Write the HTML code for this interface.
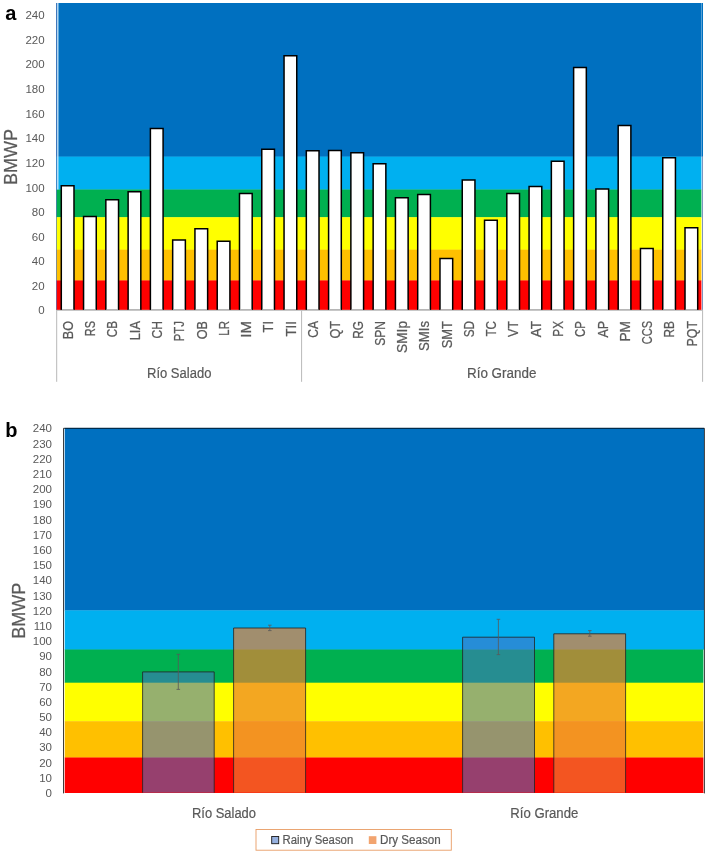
<!DOCTYPE html>
<html><head><meta charset="utf-8"><title>BMWP</title>
<style>html,body{margin:0;padding:0;background:#fff;}svg{display:block;will-change:transform;}text{font-family:"Liberation Sans",sans-serif;}</style></head><body>
<svg width="708" height="855" viewBox="0 0 708 855">
<rect x="0" y="0" width="708" height="855" fill="#ffffff"/>
<rect x="56.1" y="3.0" width="645.5" height="153.9" fill="#0070C0"/>
<rect x="56.1" y="156.6" width="645.5" height="33.2" fill="#00B0F0"/>
<rect x="56.1" y="189.5" width="645.5" height="28.0" fill="#00B050"/>
<rect x="56.1" y="217.2" width="645.5" height="32.7" fill="#FFFF00"/>
<rect x="56.1" y="249.6" width="645.5" height="31.1" fill="#FFC000"/>
<rect x="56.1" y="280.4" width="645.5" height="29.5" fill="#FF0000"/>
<rect x="56.1" y="3.0" width="0.7" height="306.9" fill="#4F74B8"/>
<rect x="57.1" y="3.0" width="1.4" height="186.5" fill="#C6E2F6"/>
<rect x="701.6" y="3.0" width="0.6" height="306.9" fill="#ffffff" fill-opacity="0.7"/>
<rect x="702.1" y="3.0" width="0.9" height="306.9" fill="#6F88B8"/>
<rect x="701.6" y="3.0" width="1.4" height="153.4" fill="#0070C0"/>
<path d="M61.29 309.9 V185.75 H73.99 V309.9" fill="#ffffff" stroke="#000000" stroke-width="1.5"/>
<rect x="61.99" y="309.2" width="11.30" height="0.8" fill="#A6A6A6"/>
<path d="M83.56 309.9 V216.55 H96.26 V309.9" fill="#ffffff" stroke="#000000" stroke-width="1.5"/>
<rect x="84.26" y="309.2" width="11.30" height="0.8" fill="#A6A6A6"/>
<path d="M105.84 309.9 V199.65 H118.54 V309.9" fill="#ffffff" stroke="#000000" stroke-width="1.5"/>
<rect x="106.54" y="309.2" width="11.30" height="0.8" fill="#A6A6A6"/>
<path d="M128.12 309.9 V191.65 H140.82 V309.9" fill="#ffffff" stroke="#000000" stroke-width="1.5"/>
<rect x="128.82" y="309.2" width="11.30" height="0.8" fill="#A6A6A6"/>
<path d="M150.39 309.9 V128.45 H163.09 V309.9" fill="#ffffff" stroke="#000000" stroke-width="1.5"/>
<rect x="151.09" y="309.2" width="11.30" height="0.8" fill="#A6A6A6"/>
<path d="M172.67 309.9 V240.05 H185.37 V309.9" fill="#ffffff" stroke="#000000" stroke-width="1.5"/>
<rect x="173.37" y="309.2" width="11.30" height="0.8" fill="#A6A6A6"/>
<path d="M194.94 309.9 V228.75 H207.64 V309.9" fill="#ffffff" stroke="#000000" stroke-width="1.5"/>
<rect x="195.64" y="309.2" width="11.30" height="0.8" fill="#A6A6A6"/>
<path d="M217.22 309.9 V241.15 H229.92 V309.9" fill="#ffffff" stroke="#000000" stroke-width="1.5"/>
<rect x="217.92" y="309.2" width="11.30" height="0.8" fill="#A6A6A6"/>
<path d="M239.49 309.9 V193.45 H252.19 V309.9" fill="#ffffff" stroke="#000000" stroke-width="1.5"/>
<rect x="240.19" y="309.2" width="11.30" height="0.8" fill="#A6A6A6"/>
<path d="M261.77 309.9 V149.35 H274.47 V309.9" fill="#ffffff" stroke="#000000" stroke-width="1.5"/>
<rect x="262.47" y="309.2" width="11.30" height="0.8" fill="#A6A6A6"/>
<path d="M284.05 309.9 V55.75 H296.75 V309.9" fill="#ffffff" stroke="#000000" stroke-width="1.5"/>
<rect x="284.75" y="309.2" width="11.30" height="0.8" fill="#A6A6A6"/>
<path d="M306.32 309.9 V150.65 H319.02 V309.9" fill="#ffffff" stroke="#000000" stroke-width="1.5"/>
<rect x="307.02" y="309.2" width="11.30" height="0.8" fill="#A6A6A6"/>
<path d="M328.60 309.9 V150.55 H341.30 V309.9" fill="#ffffff" stroke="#000000" stroke-width="1.5"/>
<rect x="329.30" y="309.2" width="11.30" height="0.8" fill="#A6A6A6"/>
<path d="M350.87 309.9 V152.75 H363.57 V309.9" fill="#ffffff" stroke="#000000" stroke-width="1.5"/>
<rect x="351.57" y="309.2" width="11.30" height="0.8" fill="#A6A6A6"/>
<path d="M373.15 309.9 V163.75 H385.85 V309.9" fill="#ffffff" stroke="#000000" stroke-width="1.5"/>
<rect x="373.85" y="309.2" width="11.30" height="0.8" fill="#A6A6A6"/>
<path d="M395.43 309.9 V197.85 H408.13 V309.9" fill="#ffffff" stroke="#000000" stroke-width="1.5"/>
<rect x="396.13" y="309.2" width="11.30" height="0.8" fill="#A6A6A6"/>
<path d="M417.70 309.9 V194.55 H430.40 V309.9" fill="#ffffff" stroke="#000000" stroke-width="1.5"/>
<rect x="418.40" y="309.2" width="11.30" height="0.8" fill="#A6A6A6"/>
<path d="M439.98 309.9 V258.45 H452.68 V309.9" fill="#ffffff" stroke="#000000" stroke-width="1.5"/>
<rect x="440.68" y="309.2" width="11.30" height="0.8" fill="#A6A6A6"/>
<path d="M462.25 309.9 V179.95 H474.95 V309.9" fill="#ffffff" stroke="#000000" stroke-width="1.5"/>
<rect x="462.95" y="309.2" width="11.30" height="0.8" fill="#A6A6A6"/>
<path d="M484.53 309.9 V220.35 H497.23 V309.9" fill="#ffffff" stroke="#000000" stroke-width="1.5"/>
<rect x="485.23" y="309.2" width="11.30" height="0.8" fill="#A6A6A6"/>
<path d="M506.81 309.9 V193.45 H519.51 V309.9" fill="#ffffff" stroke="#000000" stroke-width="1.5"/>
<rect x="507.51" y="309.2" width="11.30" height="0.8" fill="#A6A6A6"/>
<path d="M529.08 309.9 V186.55 H541.78 V309.9" fill="#ffffff" stroke="#000000" stroke-width="1.5"/>
<rect x="529.78" y="309.2" width="11.30" height="0.8" fill="#A6A6A6"/>
<path d="M551.36 309.9 V161.15 H564.06 V309.9" fill="#ffffff" stroke="#000000" stroke-width="1.5"/>
<rect x="552.06" y="309.2" width="11.30" height="0.8" fill="#A6A6A6"/>
<path d="M573.63 309.9 V67.45 H586.33 V309.9" fill="#ffffff" stroke="#000000" stroke-width="1.5"/>
<rect x="574.33" y="309.2" width="11.30" height="0.8" fill="#A6A6A6"/>
<path d="M595.91 309.9 V189.05 H608.61 V309.9" fill="#ffffff" stroke="#000000" stroke-width="1.5"/>
<rect x="596.61" y="309.2" width="11.30" height="0.8" fill="#A6A6A6"/>
<path d="M618.18 309.9 V125.55 H630.88 V309.9" fill="#ffffff" stroke="#000000" stroke-width="1.5"/>
<rect x="618.88" y="309.2" width="11.30" height="0.8" fill="#A6A6A6"/>
<path d="M640.46 309.9 V248.55 H653.16 V309.9" fill="#ffffff" stroke="#000000" stroke-width="1.5"/>
<rect x="641.16" y="309.2" width="11.30" height="0.8" fill="#A6A6A6"/>
<path d="M662.74 309.9 V157.85 H675.44 V309.9" fill="#ffffff" stroke="#000000" stroke-width="1.5"/>
<rect x="663.44" y="309.2" width="11.30" height="0.8" fill="#A6A6A6"/>
<path d="M685.01 309.9 V227.65 H697.71 V309.9" fill="#ffffff" stroke="#000000" stroke-width="1.5"/>
<rect x="685.71" y="309.2" width="11.30" height="0.8" fill="#A6A6A6"/>
<rect x="56.8" y="309.9" width="646.2" height="0.8" fill="#B0B0B0"/>
<rect x="56.1" y="310.0" width="1.1" height="71.8" fill="#BFBFBF"/>
<rect x="301.0" y="310.0" width="1.1" height="71.8" fill="#BFBFBF"/>
<rect x="702.0" y="310.0" width="1.1" height="71.8" fill="#BFBFBF"/>
<text x="44.6" y="314.4" font-size="11.5" text-anchor="end" fill="#595959">0</text>
<text x="44.6" y="289.8" font-size="11.5" text-anchor="end" fill="#595959">20</text>
<text x="44.6" y="265.2" font-size="11.5" text-anchor="end" fill="#595959">40</text>
<text x="44.6" y="240.7" font-size="11.5" text-anchor="end" fill="#595959">60</text>
<text x="44.6" y="216.1" font-size="11.5" text-anchor="end" fill="#595959">80</text>
<text x="44.6" y="191.5" font-size="11.5" text-anchor="end" fill="#595959">100</text>
<text x="44.6" y="166.9" font-size="11.5" text-anchor="end" fill="#595959">120</text>
<text x="44.6" y="142.4" font-size="11.5" text-anchor="end" fill="#595959">140</text>
<text x="44.6" y="117.8" font-size="11.5" text-anchor="end" fill="#595959">160</text>
<text x="44.6" y="93.2" font-size="11.5" text-anchor="end" fill="#595959">180</text>
<text x="44.6" y="68.3" font-size="11.5" text-anchor="end" fill="#595959">200</text>
<text x="44.6" y="44.1" font-size="11.5" text-anchor="end" fill="#595959">220</text>
<text x="44.6" y="18.9" font-size="11.5" text-anchor="end" fill="#595959">240</text>
<text transform="translate(72.94 321.0) rotate(-90)" font-size="14.2" text-anchor="end" textLength="18.2" lengthAdjust="spacingAndGlyphs" fill="#595959" stroke="#595959" stroke-width="0.25">BO</text>
<text transform="translate(95.21 321.0) rotate(-90)" font-size="14.2" text-anchor="end" textLength="15.2" lengthAdjust="spacingAndGlyphs" fill="#595959" stroke="#595959" stroke-width="0.25">RS</text>
<text transform="translate(117.49 321.0) rotate(-90)" font-size="14.2" text-anchor="end" textLength="16.3" lengthAdjust="spacingAndGlyphs" fill="#595959" stroke="#595959" stroke-width="0.25">CB</text>
<text transform="translate(139.77 321.0) rotate(-90)" font-size="14.2" text-anchor="end" textLength="19.3" lengthAdjust="spacingAndGlyphs" fill="#595959" stroke="#595959" stroke-width="0.25">LIA</text>
<text transform="translate(162.04 321.0) rotate(-90)" font-size="14.2" text-anchor="end" textLength="17.5" lengthAdjust="spacingAndGlyphs" fill="#595959" stroke="#595959" stroke-width="0.25">CH</text>
<text transform="translate(184.32 321.0) rotate(-90)" font-size="14.2" text-anchor="end" textLength="20.3" lengthAdjust="spacingAndGlyphs" fill="#595959" stroke="#595959" stroke-width="0.25">PTJ</text>
<text transform="translate(206.59 321.0) rotate(-90)" font-size="14.2" text-anchor="end" textLength="18.2" lengthAdjust="spacingAndGlyphs" fill="#595959" stroke="#595959" stroke-width="0.25">OB</text>
<text transform="translate(228.87 321.0) rotate(-90)" font-size="14.2" text-anchor="end" textLength="14.7" lengthAdjust="spacingAndGlyphs" fill="#595959" stroke="#595959" stroke-width="0.25">LR</text>
<text transform="translate(251.14 321.0) rotate(-90)" font-size="14.2" text-anchor="end" textLength="16.8" lengthAdjust="spacingAndGlyphs" fill="#595959" stroke="#595959" stroke-width="0.25">IM</text>
<text transform="translate(273.42 321.0) rotate(-90)" font-size="14.2" text-anchor="end" textLength="11.4" lengthAdjust="spacingAndGlyphs" fill="#595959" stroke="#595959" stroke-width="0.25">TI</text>
<text transform="translate(295.70 321.0) rotate(-90)" font-size="14.2" text-anchor="end" textLength="15.5" lengthAdjust="spacingAndGlyphs" fill="#595959" stroke="#595959" stroke-width="0.25">TII</text>
<text transform="translate(317.97 321.0) rotate(-90)" font-size="14.2" text-anchor="end" textLength="16.8" lengthAdjust="spacingAndGlyphs" fill="#595959" stroke="#595959" stroke-width="0.25">CA</text>
<text transform="translate(340.25 321.0) rotate(-90)" font-size="14.2" text-anchor="end" textLength="17.5" lengthAdjust="spacingAndGlyphs" fill="#595959" stroke="#595959" stroke-width="0.25">QT</text>
<text transform="translate(362.52 321.0) rotate(-90)" font-size="14.2" text-anchor="end" textLength="17.7" lengthAdjust="spacingAndGlyphs" fill="#595959" stroke="#595959" stroke-width="0.25">RG</text>
<text transform="translate(384.80 321.0) rotate(-90)" font-size="14.2" text-anchor="end" textLength="24.7" lengthAdjust="spacingAndGlyphs" fill="#595959" stroke="#595959" stroke-width="0.25">SPN</text>
<text transform="translate(407.08 321.0) rotate(-90)" font-size="14.2" text-anchor="end" textLength="31.9" lengthAdjust="spacingAndGlyphs" fill="#595959" stroke="#595959" stroke-width="0.25">SMIp</text>
<text transform="translate(429.35 321.0) rotate(-90)" font-size="14.2" text-anchor="end" textLength="30.0" lengthAdjust="spacingAndGlyphs" fill="#595959" stroke="#595959" stroke-width="0.25">SMIs</text>
<text transform="translate(451.63 321.0) rotate(-90)" font-size="14.2" text-anchor="end" textLength="27.3" lengthAdjust="spacingAndGlyphs" fill="#595959" stroke="#595959" stroke-width="0.25">SMT</text>
<text transform="translate(473.90 321.0) rotate(-90)" font-size="14.2" text-anchor="end" textLength="16.3" lengthAdjust="spacingAndGlyphs" fill="#595959" stroke="#595959" stroke-width="0.25">SD</text>
<text transform="translate(496.18 321.0) rotate(-90)" font-size="14.2" text-anchor="end" textLength="15.5" lengthAdjust="spacingAndGlyphs" fill="#595959" stroke="#595959" stroke-width="0.25">TC</text>
<text transform="translate(518.46 321.0) rotate(-90)" font-size="14.2" text-anchor="end" textLength="16.0" lengthAdjust="spacingAndGlyphs" fill="#595959" stroke="#595959" stroke-width="0.25">VT</text>
<text transform="translate(540.73 321.0) rotate(-90)" font-size="14.2" text-anchor="end" textLength="16.2" lengthAdjust="spacingAndGlyphs" fill="#595959" stroke="#595959" stroke-width="0.25">AT</text>
<text transform="translate(563.01 321.0) rotate(-90)" font-size="14.2" text-anchor="end" textLength="15.7" lengthAdjust="spacingAndGlyphs" fill="#595959" stroke="#595959" stroke-width="0.25">PX</text>
<text transform="translate(585.28 321.0) rotate(-90)" font-size="14.2" text-anchor="end" textLength="15.9" lengthAdjust="spacingAndGlyphs" fill="#595959" stroke="#595959" stroke-width="0.25">CP</text>
<text transform="translate(607.56 321.0) rotate(-90)" font-size="14.2" text-anchor="end" textLength="16.6" lengthAdjust="spacingAndGlyphs" fill="#595959" stroke="#595959" stroke-width="0.25">AP</text>
<text transform="translate(629.83 321.0) rotate(-90)" font-size="14.2" text-anchor="end" textLength="20.6" lengthAdjust="spacingAndGlyphs" fill="#595959" stroke="#595959" stroke-width="0.25">PM</text>
<text transform="translate(652.11 321.0) rotate(-90)" font-size="14.2" text-anchor="end" textLength="23.3" lengthAdjust="spacingAndGlyphs" fill="#595959" stroke="#595959" stroke-width="0.25">CCS</text>
<text transform="translate(674.39 321.0) rotate(-90)" font-size="14.2" text-anchor="end" textLength="16.5" lengthAdjust="spacingAndGlyphs" fill="#595959" stroke="#595959" stroke-width="0.25">RB</text>
<text transform="translate(696.66 321.0) rotate(-90)" font-size="14.2" text-anchor="end" textLength="25.5" lengthAdjust="spacingAndGlyphs" fill="#595959" stroke="#595959" stroke-width="0.25">PQT</text>
<text x="147" y="377.9" font-size="14" textLength="64.4" lengthAdjust="spacingAndGlyphs" fill="#595959" stroke="#595959" stroke-width="0.2">Río Salado</text>
<text x="467" y="377.9" font-size="14" textLength="69.4" lengthAdjust="spacingAndGlyphs" fill="#595959" stroke="#595959" stroke-width="0.2">Río Grande</text>
<text transform="translate(17.3 184.9) rotate(-90)" font-size="18.4" textLength="56.0" lengthAdjust="spacingAndGlyphs" fill="#595959" stroke="#595959" stroke-width="0.25">BMWP</text>
<text x="5.3" y="20" font-size="20" font-weight="bold" fill="#000">a</text>
<rect x="64.7" y="427.9" width="639.3" height="182.8" fill="#0070C0"/>
<rect x="64.7" y="610.4" width="639.3" height="39.5" fill="#00B0F0"/>
<rect x="64.7" y="649.5" width="639.3" height="33.5" fill="#00B050"/>
<rect x="64.7" y="682.7" width="639.3" height="38.8" fill="#FFFF00"/>
<rect x="64.7" y="721.2" width="639.3" height="36.6" fill="#FFC000"/>
<rect x="64.7" y="757.5" width="639.3" height="35.5" fill="#FF0000"/>
<rect x="703.0" y="649.6" width="1.0" height="143.1" fill="#ffffff" fill-opacity="0.6"/>
<path d="M63.5 793.4 V428.3 H704.45 V793.4" fill="none" stroke="#000000" stroke-opacity="0.8" stroke-width="0.95"/>
<rect x="142.6" y="671.9" width="71.6" height="120.8" fill="#4472C4" fill-opacity="0.56"/>
<path d="M142.6 792.7 V671.9 H214.2 V792.7" fill="none" stroke="#222222" stroke-width="0.8"/>
<rect x="233.6" y="628.0" width="72.0" height="164.7" fill="#ED7D31" fill-opacity="0.68"/>
<path d="M233.6 792.7 V628.0 H305.6 V792.7" fill="none" stroke="#222222" stroke-width="0.8"/>
<rect x="462.6" y="637.2" width="71.9" height="155.5" fill="#4472C4" fill-opacity="0.56"/>
<path d="M462.6 792.7 V637.2 H534.5 V792.7" fill="none" stroke="#222222" stroke-width="0.8"/>
<rect x="553.8" y="633.8" width="71.8" height="158.9" fill="#ED7D31" fill-opacity="0.68"/>
<path d="M553.8 792.7 V633.8 H625.6 V792.7" fill="none" stroke="#222222" stroke-width="0.8"/>
<path d="M178.3 654.3 V689.4 M176.5 654.3 H180.10000000000002 M176.5 689.4 H180.10000000000002" fill="none" stroke="#595959" stroke-width="0.8"/>
<path d="M269.8 625.2 V630.6 M268.0 625.2 H271.6 M268.0 630.6 H271.6" fill="none" stroke="#595959" stroke-width="0.8"/>
<path d="M498.4 619.3 V654.6 M496.59999999999997 619.3 H500.2 M496.59999999999997 654.6 H500.2" fill="none" stroke="#595959" stroke-width="0.8"/>
<path d="M589.8 630.6 V636.2 M588.0 630.6 H591.5999999999999 M588.0 636.2 H591.5999999999999" fill="none" stroke="#595959" stroke-width="0.8"/>
<text x="52.0" y="797.0" font-size="11.5" text-anchor="end" fill="#595959">0</text>
<text x="52.0" y="781.8" font-size="11.5" text-anchor="end" fill="#595959">10</text>
<text x="52.0" y="766.6" font-size="11.5" text-anchor="end" fill="#595959">20</text>
<text x="52.0" y="751.4" font-size="11.5" text-anchor="end" fill="#595959">30</text>
<text x="52.0" y="736.2" font-size="11.5" text-anchor="end" fill="#595959">40</text>
<text x="52.0" y="721.1" font-size="11.5" text-anchor="end" fill="#595959">50</text>
<text x="52.0" y="705.9" font-size="11.5" text-anchor="end" fill="#595959">60</text>
<text x="52.0" y="690.7" font-size="11.5" text-anchor="end" fill="#595959">70</text>
<text x="52.0" y="675.5" font-size="11.5" text-anchor="end" fill="#595959">80</text>
<text x="52.0" y="660.3" font-size="11.5" text-anchor="end" fill="#595959">90</text>
<text x="52.0" y="645.1" font-size="11.5" text-anchor="end" fill="#595959">100</text>
<text x="52.0" y="629.9" font-size="11.5" text-anchor="end" fill="#595959">110</text>
<text x="52.0" y="614.7" font-size="11.5" text-anchor="end" fill="#595959">120</text>
<text x="52.0" y="599.5" font-size="11.5" text-anchor="end" fill="#595959">130</text>
<text x="52.0" y="584.3" font-size="11.5" text-anchor="end" fill="#595959">140</text>
<text x="52.0" y="569.1" font-size="11.5" text-anchor="end" fill="#595959">150</text>
<text x="52.0" y="554.0" font-size="11.5" text-anchor="end" fill="#595959">160</text>
<text x="52.0" y="538.8" font-size="11.5" text-anchor="end" fill="#595959">170</text>
<text x="52.0" y="523.6" font-size="11.5" text-anchor="end" fill="#595959">180</text>
<text x="52.0" y="508.4" font-size="11.5" text-anchor="end" fill="#595959">190</text>
<text x="52.0" y="493.2" font-size="11.5" text-anchor="end" fill="#595959">200</text>
<text x="52.0" y="478.0" font-size="11.5" text-anchor="end" fill="#595959">210</text>
<text x="52.0" y="462.8" font-size="11.5" text-anchor="end" fill="#595959">220</text>
<text x="52.0" y="447.6" font-size="11.5" text-anchor="end" fill="#595959">230</text>
<text x="52.0" y="432.4" font-size="11.5" text-anchor="end" fill="#595959">240</text>
<text x="192" y="818" font-size="14" textLength="64.0" lengthAdjust="spacingAndGlyphs" fill="#595959" stroke="#595959" stroke-width="0.2">Río Salado</text>
<text x="510.3" y="818" font-size="14" textLength="68.0" lengthAdjust="spacingAndGlyphs" fill="#595959" stroke="#595959" stroke-width="0.2">Río Grande</text>
<text transform="translate(25.3 638.8) rotate(-90)" font-size="18.4" textLength="56.0" lengthAdjust="spacingAndGlyphs" fill="#595959" stroke="#595959" stroke-width="0.25">BMWP</text>
<text x="5.2" y="437.1" font-size="20" font-weight="bold" fill="#000">b</text>
<rect x="256.0" y="829.5" width="195.3" height="20.7" fill="#ffffff" stroke="#E89C64" stroke-width="0.9"/>
<rect x="271.7" y="836.5" width="7.0" height="7.2" fill="#96B0DE" stroke="#1a1a1a" stroke-width="0.9"/>
<text x="282.6" y="844.1" font-size="12" textLength="70.6" lengthAdjust="spacingAndGlyphs" fill="#595959" stroke="#595959" stroke-width="0.2">Rainy Season</text>
<rect x="368.8" y="836.2" width="7.6" height="7.8" fill="#F2A46F"/>
<text x="380.0" y="844.1" font-size="12" textLength="60.7" lengthAdjust="spacingAndGlyphs" fill="#595959" stroke="#595959" stroke-width="0.2">Dry Season</text>
</svg></body></html>
